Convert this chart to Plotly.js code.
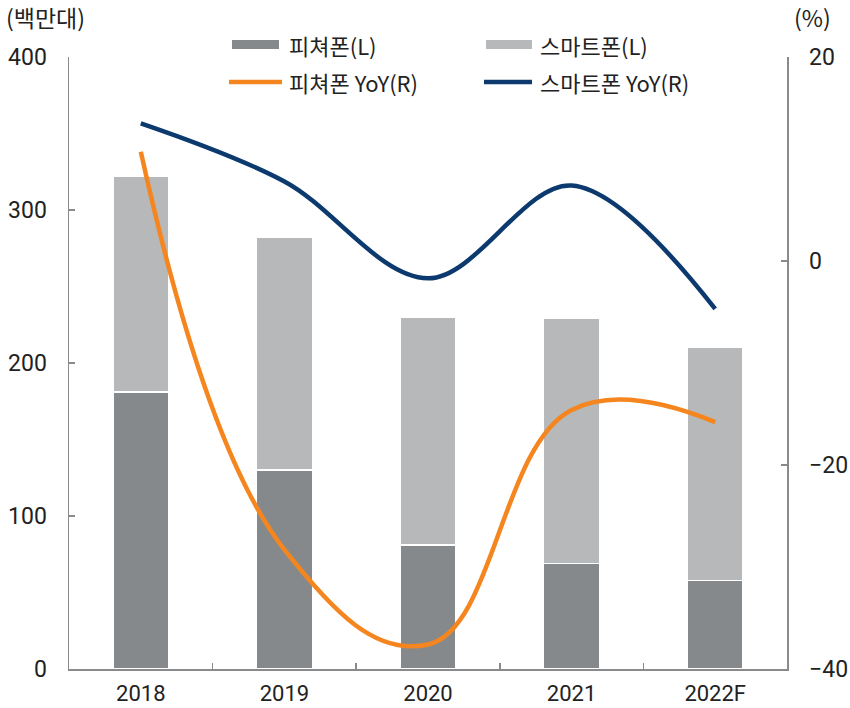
<!DOCTYPE html>
<html>
<head>
<meta charset="utf-8">
<script src="https://cdn.plot.ly/plotly-3.0.1.min.js"></script>
<style>
html,body{margin:0;padding:0;background:#fff;}
#chart{width:850px;height:708px;}
</style>
</head>
<body>
<div id="chart"></div>
<script>
// Data
const years = ['2018', '2019', '2020', '2021', '2022F'];
const featurePhone = [181, 130, 81, 69, 58];          // 백만대
const smartPhone = [141, 152, 149, 160, 152];         // 백만대 (stacked on feature)
const featureYoY = [10.7, -28.3, -37.6, -14.6, -15.8]; // %
const smartYoY = [13.5, 7.8, -1.7, 7.4, -4.7];         // %
const seriesNames = ['피쳐폰(L)', '스마트폰(L)', '피쳐폰 YoY(R)', '스마트폰 YoY(R)'];
const leftUnit = '(백만대)';
const rightUnit = '(%)';

const C_FEAT = '#86898c';
const C_SMART = '#b7b8ba';
const C_ORANGE = '#f5861f';
const C_NAVY = '#0c3a6e';
const FONT = "Roboto, 'Noto Sans CJK KR', sans-serif";
const KFONT = "'Noto Sans CJK KR', Roboto, sans-serif";

const traces = [
  {type: 'bar', x: years, y: featurePhone, name: seriesNames[0], marker: {color: C_FEAT, line: {color: '#ffffff', width: 1.5}}, width: 0.39, showlegend: false, hoverinfo: 'skip'},
  {type: 'bar', x: years, y: smartPhone, name: seriesNames[1], marker: {color: C_SMART, line: {color: '#ffffff', width: 1.5}}, width: 0.39, showlegend: false, hoverinfo: 'skip'},
  {type: 'scatter', mode: 'lines', x: years, y: featureYoY, yaxis: 'y2', name: seriesNames[2], line: {color: C_ORANGE, width: 4.5, shape: 'spline', smoothing: 1.2}, showlegend: false, hoverinfo: 'skip'},
  {type: 'scatter', mode: 'lines', x: years, y: smartYoY, yaxis: 'y2', name: seriesNames[3], line: {color: C_NAVY, width: 4.5, shape: 'spline', smoothing: 1}, showlegend: false, hoverinfo: 'skip'}
];

// manual legend (swatches + labels)
const legendItems = [
  {kind: 'rect', color: C_FEAT, x0: 0.227, x1: 0.2925, y: 1.0204, tx: 0.3036},
  {kind: 'rect', color: C_SMART, x0: 0.5808, x1: 0.6448, y: 1.0204, tx: 0.6532},
  {kind: 'line', color: C_ORANGE, x0: 0.2228, x1: 0.2967, y: 0.959, tx: 0.3036},
  {kind: 'line', color: C_NAVY, x0: 0.5780, x1: 0.6448, y: 0.959, tx: 0.6532}
];
const shapes = [];
const annotations = [];
legendItems.forEach((it, i) => {
  if (it.kind === 'rect') {
    shapes.push({type: 'rect', xref: 'paper', yref: 'paper', x0: it.x0, x1: it.x1, y0: it.y - 0.0075, y1: it.y + 0.0075, fillcolor: it.color, line: {width: 0}});
  } else {
    shapes.push({type: 'line', xref: 'paper', yref: 'paper', x0: it.x0, x1: it.x1, y0: it.y, y1: it.y, line: {color: it.color, width: 4.5}});
  }
  annotations.push({xref: 'paper', yref: 'paper', x: it.tx, y: it.y, xanchor: 'left', yanchor: 'middle', text: seriesNames[i], showarrow: false, font: {family: KFONT, size: 22, color: '#222'}});
});
annotations.push({xref: 'paper', yref: 'paper', x: -0.091, y: 1.065, xanchor: 'left', yanchor: 'middle', text: leftUnit, showarrow: false, font: {family: KFONT, size: 23, color: '#222'}});
annotations.push({xref: 'paper', yref: 'paper', x: 1.0, y: 1.065, xanchor: 'left', yanchor: 'middle', xshift: 5, text: rightUnit, showarrow: false, font: {family: KFONT, size: 23, color: '#222'}});

const axisCommon = {
  showgrid: false, zeroline: false, showline: true, linecolor: '#8a8a8a', linewidth: 1.5,
  ticks: 'inside', ticklen: 6, tickwidth: 1.5, tickcolor: '#8a8a8a',
  tickfont: {family: FONT, size: 23, color: '#222'}
};

const layout = {
  width: 850, height: 708,
  margin: {l: 69, r: 63, t: 57, b: 39, pad: 0},
  paper_bgcolor: '#fff', plot_bgcolor: '#fff',
  barmode: 'stack',
  showlegend: false,
  xaxis: Object.assign({}, axisCommon, {type: 'category', range: [-0.5, 4.5], tickson: 'boundaries', ticklabelstandoff: 4, tickfont: {family: FONT, size: 22, color: '#222'}}),
  yaxis: Object.assign({}, axisCommon, {range: [0, 400], dtick: 100, tick0: 0, ticklabelstandoff: 16}),
  yaxis2: Object.assign({}, axisCommon, {overlaying: 'y', side: 'right', range: [-40, 20], dtick: 20, tick0: 0, ticklabelstandoff: 16}),
  shapes: shapes,
  annotations: annotations
};

Plotly.newPlot('chart', traces, layout, {displayModeBar: false, staticPlot: true});
</script>
</body>
</html>
